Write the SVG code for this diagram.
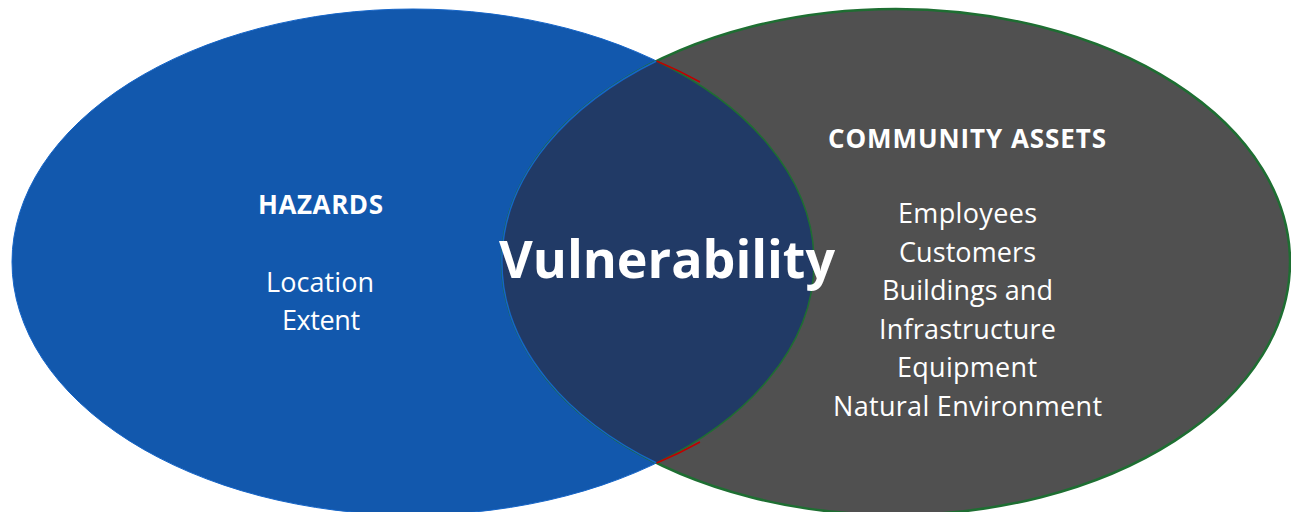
<svg xmlns="http://www.w3.org/2000/svg" width="1291" height="512" viewBox="0 0 1291 512">
  <style>
    .t { font-family: "Open Sans", "Liberation Sans", sans-serif; fill: #ffffff; text-anchor: middle; }
    .h { font-weight: bold; font-size: 26px; }
    .r { font-size: 27px; }
    .big { font-weight: bold; font-size: 52px; }
  </style>
  <rect width="1291" height="512" fill="#ffffff"/>
  <g id="hazards">
    <ellipse cx="413" cy="262" rx="401" ry="253" fill="#1258AD" stroke="#1565C8" stroke-width="1"/>
    <text class="t h" x="320.5" y="214" textLength="125">HAZARDS</text>
    <text class="t r" x="320" y="292" textLength="108">Location</text>
    <text class="t r" x="321" y="330" textLength="78">Extent</text>
  </g>
  <g id="community-assets">
    <ellipse cx="896" cy="262" rx="394" ry="253" fill="#505050" stroke="#1E6E32" stroke-width="2.5"/>
    <text class="t h" x="967" y="148" textLength="278">COMMUNITY ASSETS</text>
    <text class="t r" x="967.5" y="223" textLength="139">Employees</text>
    <text class="t r" x="967.5" y="262" textLength="137">Customers</text>
    <text class="t r" x="967.5" y="300" textLength="171">Buildings and</text>
    <text class="t r" x="967.5" y="339" textLength="177">Infrastructure</text>
    <text class="t r" x="967" y="377" textLength="140">Equipment</text>
    <text class="t r" x="967.5" y="416" textLength="269">Natural Environment</text>
  </g>
  <g id="vulnerability">
    <path d="M656.6 61 A401 253 0 0 1 656.6 463 A394 253 0 0 1 656.6 61 Z" fill="#213A66"/>
    <path d="M656.6 463 A394 253 0 0 1 656.6 61" fill="none" stroke="#1565C8" stroke-width="1.5"/>
    <path d="M656.6 61 A401 253 0 0 1 656.6 463" fill="none" stroke="#1E6E32" stroke-width="1.5"/>
    <path d="M656.6 61 A401 253 0 0 1 700 82" fill="none" stroke="#C00000" stroke-width="1.5"/>
    <path d="M700 442 A401 253 0 0 1 656.6 463" fill="none" stroke="#C00000" stroke-width="1.5"/>
    <text class="t big" x="667" y="278" textLength="336">Vulnerability</text>
  </g>
  <g id="connectors"></g>
</svg>
